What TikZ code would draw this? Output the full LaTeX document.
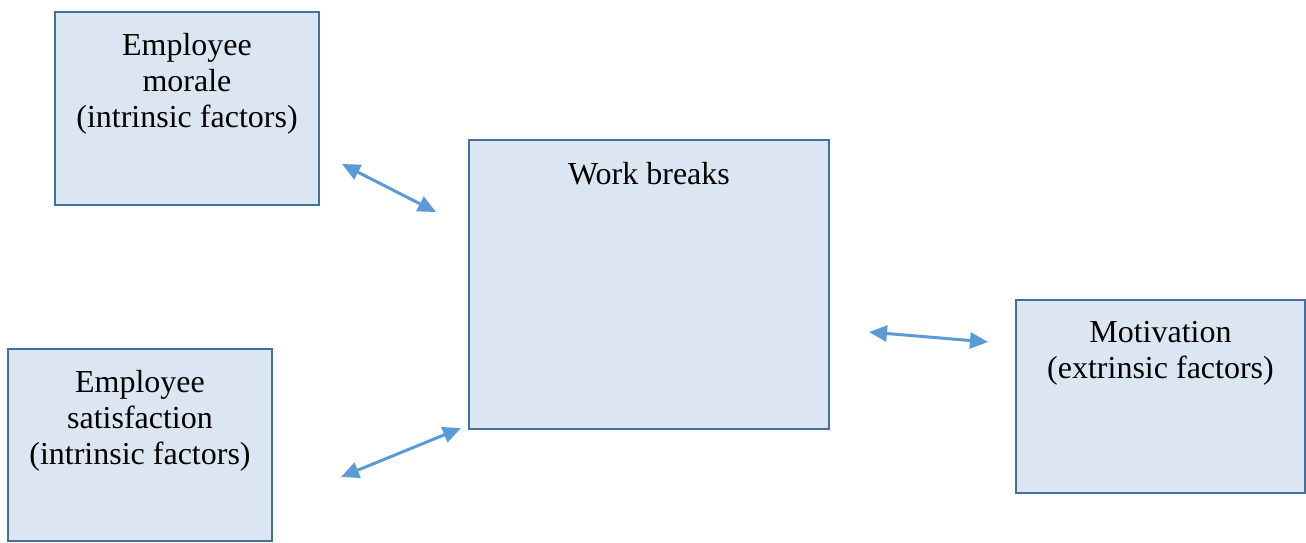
\documentclass[tikz,border=0pt]{standalone}
\usepackage{fontspec}
\setmainfont{Liberation Serif}
\usetikzlibrary{arrows.meta}
\definecolor{boxfill}{HTML}{DCE6F2}
\definecolor{boxline}{HTML}{41719C}
\definecolor{linkblue}{HTML}{5B9BD5}
\begin{document}
\begin{tikzpicture}[x=1pt,y=-1pt,
  factorbox/.style={draw=boxline,fill=boxfill,line width=2.5pt,inner sep=0pt,rectangle},
  boxtext/.style={inner sep=0pt,align=center,font=\fontsize{32}{36}\selectfont},
  link/.style={draw=linkblue,line width=3pt,
    {Triangle[length=18pt,width=16pt]}-{Triangle[length=18pt,width=16pt]}}]
\useasboundingbox (0,0) rectangle (1306,542);
% boxes
\node[factorbox,minimum width=264pt,minimum height=193pt] (morale) at (187,108.5) {};
\node[factorbox,minimum width=264pt,minimum height=192pt] (satisf) at (140,445) {};
\node[factorbox,minimum width=360pt,minimum height=289pt] (breaks) at (649,284.5) {};
\node[factorbox,minimum width=289pt,minimum height=193pt] (motiv) at (1160.5,396.5) {};
% texts
\node[boxtext] (moraletxt) at (187,83.5) {Employee\\morale\\(intrinsic factors)};
\node[boxtext] (satisftxt) at (140,420.5) {Employee\\satisfaction\\(intrinsic factors)};
\node[boxtext] (breakstxt) at (649,174) {Work breaks};
\node[boxtext] (motivtxt) at (1160.5,353.5) {Motivation\\(extrinsic factors)};
% connector ends
\coordinate (m1) at (342,164);
\coordinate (m2) at (436,212);
\coordinate (s1) at (341,477);
\coordinate (s2) at (461,428);
\coordinate (v1) at (869,332);
\coordinate (v2) at (988,342);
\draw[link] (m1) -- (m2);
\draw[link] (s1) -- (s2);
\draw[link] (v1) -- (v2);
\end{tikzpicture}
\end{document}
